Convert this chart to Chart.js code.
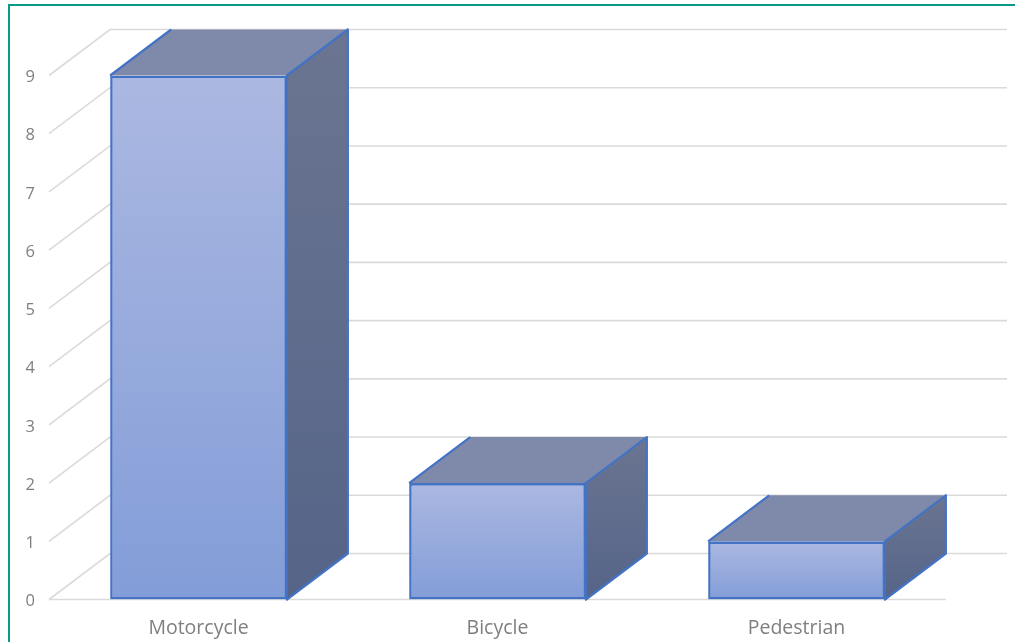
<!DOCTYPE html>
<html>
<head>
<meta charset="utf-8">
<style>
html,body{margin:0;padding:0;background:#fff;overflow:hidden}
#wrap{width:1015px;height:642px;position:relative;overflow:hidden}
canvas{display:block;filter:blur(0.45px)}
</style>
<script src="https://cdn.jsdelivr.net/npm/chart.js@4"></script>
</head>
<body>
<div id="wrap"><canvas id="c" width="1015" height="642"></canvas></div>
<script>
const categories = ['Motorcycle', 'Bicycle', 'Pedestrian'];
const values = [9, 2, 1];
const yTicks = [0, 1, 2, 3, 4, 5, 6, 7, 8, 9];

const DEPTH_X = 61, DEPTH_Y = 46;
const GRID = '#dadada', EDGE = '#4472c4', TEXT = '#7f7f7f', FRAME = '#0a9a8c';

function vGrad(ctx, y0, y1, a, b) {
  const g = ctx.createLinearGradient(0, y0, 0, y1);
  g.addColorStop(0, a); g.addColorStop(1, b);
  return g;
}

const frame3d = {
  id: 'frame3d',
  beforeDraw(chart) {
    const ctx = chart.ctx, y = chart.scales.y, a = chart.chartArea;
    ctx.save();
    // outer frame
    ctx.strokeStyle = FRAME; ctx.lineWidth = 2;
    ctx.beginPath();
    ctx.moveTo(9, 644); ctx.lineTo(9, 5); ctx.lineTo(1017, 5);
    ctx.stroke();
    // wall and floor grid
    ctx.strokeStyle = GRID; ctx.lineWidth = 1.6;
    yTicks.forEach(t => {
      const p = y.getPixelForValue(t);
      ctx.beginPath();
      ctx.moveTo(a.left, p);
      ctx.lineTo(a.left + DEPTH_X, p - DEPTH_Y);
      ctx.lineTo(a.right + DEPTH_X, p - DEPTH_Y);
      ctx.stroke();
    });
    ctx.beginPath();
    ctx.moveTo(a.left, y.getPixelForValue(0));
    ctx.lineTo(a.right, y.getPixelForValue(0));
    ctx.stroke();
    ctx.restore();
  },
  beforeDatasetsDraw(chart) {
    const ctx = chart.ctx;
    chart.getDatasetMeta(0).data.forEach(bar => {
      const l = bar.x - bar.width / 2, r = bar.x + bar.width / 2, t = bar.y, b = bar.base;
      ctx.save();
      ctx.lineWidth = 2.2; ctx.strokeStyle = EDGE; ctx.lineJoin = 'round';
      // top face
      ctx.beginPath();
      ctx.moveTo(l, t); ctx.lineTo(l + DEPTH_X, t - DEPTH_Y);
      ctx.lineTo(r + DEPTH_X, t - DEPTH_Y); ctx.lineTo(r, t); ctx.closePath();
      ctx.fillStyle = '#7f8aab'; ctx.fill();
      ctx.beginPath();
      ctx.moveTo(l, t); ctx.lineTo(l + DEPTH_X, t - DEPTH_Y);
      ctx.stroke();
      // side face
      ctx.beginPath();
      ctx.moveTo(r, t); ctx.lineTo(r + DEPTH_X, t - DEPTH_Y);
      ctx.lineTo(r + DEPTH_X, b - DEPTH_Y); ctx.lineTo(r, b); ctx.closePath();
      ctx.fillStyle = vGrad(ctx, t - DEPTH_Y, b, '#6b7591', '#556488');
      ctx.fill(); ctx.stroke();
      ctx.restore();
    });
  }
};

new Chart(document.getElementById('c'), {
  type: 'bar',
  data: {
    labels: categories,
    datasets: [{
      data: values,
      categoryPercentage: 1,
      barPercentage: 0.591,
      borderWidth: 2.6,
      borderSkipped: false,
      borderColor: EDGE,
      backgroundColor(c) {
        const s = c.chart.scales.y;
        const v = c.parsed ? c.parsed.y : NaN;
        const top = s ? s.getPixelForValue(v) : NaN;
        const base = s ? s.getPixelForValue(0) : NaN;
        if (!Number.isFinite(top) || !Number.isFinite(base)) return '#98ace0';
        return vGrad(c.chart.ctx, top, base, '#abb8e1', '#839dd8');
      }
    }]
  },
  options: {
    responsive: false,
    animation: false,
    layout: { padding: { top: 75.5, right: 69, left: 0, bottom: 0 } },
    plugins: { legend: { display: false }, tooltip: { enabled: false }, title: { display: false } },
    scales: {
      x: {
        afterFit(s) { s.height = 42.5; },
        grid: { display: false },
        border: { display: false },
        ticks: { color: TEXT, font: { family: '"Open Sans"', size: 19.5 }, padding: 9, maxRotation: 0 }
      },
      y: {
        min: 0, max: 9,
        afterFit(s) { s.width = 49; },
        afterBuildTicks(s) { s.ticks = yTicks.map(v => ({ value: v })); },
        grid: { display: false },
        border: { display: false },
        ticks: { color: TEXT, font: { family: '"Open Sans"', size: 16.5 }, padding: 6, labelOffset: 2 }
      }
    }
  },
  plugins: [frame3d]
});
</script>
</body>
</html>
